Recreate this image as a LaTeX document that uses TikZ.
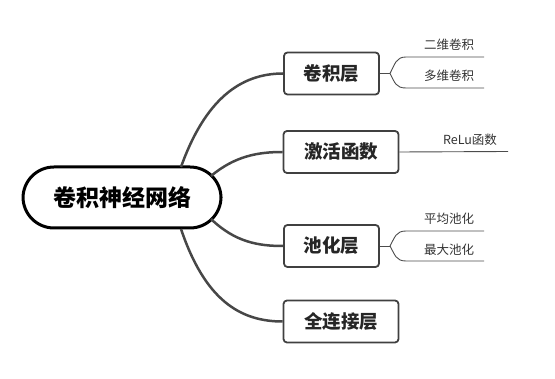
\documentclass[tikz,border=0pt]{standalone}
\usepackage{fontspec}
\setmainfont{Noto Sans CJK SC}
\begin{document}
\begin{tikzpicture}[x=1pt,y=-1pt,
  rootbox/.style={draw=black,line width=3pt,rounded corners=31pt,minimum width=198pt,minimum height=61pt,inner sep=0pt,font=\fontsize{23}{26}\selectfont\bfseries,text=black},
  mainbox/.style={draw=black!75,line width=1.8pt,rounded corners=3.5pt,minimum height=42pt,inner sep=0pt,font=\fontsize{18.5}{21}\selectfont\bfseries,text=black!85},
  branch/.style={draw=black!72,line width=2.5pt},
  subline/.style={draw=black!70,line width=0.9pt},
  sublabel/.style={font=\fontsize{12.5}{14}\selectfont,text=black!80,inner sep=0pt}
]
\useasboundingbox (0,0) rectangle (555,379);
\node[rootbox] (root) at (122,197.5) {卷积神经网络};
\node[mainbox,minimum width=95pt] (b1) at (331.5,73.5) {卷积层};
\node[mainbox,minimum width=115pt] (b2) at (341,152) {激活函数};
\node[mainbox,minimum width=95pt] (b3) at (331.5,246) {池化层};
\node[mainbox,minimum width=115pt] (b4) at (341,321.5) {全连接层};

\coordinate (r1) at (181,167);
\coordinate (r2) at (211,176);
\coordinate (r3) at (211,219);
\coordinate (r4) at (181,229);
\draw[branch] (r1) .. controls (205,100) and (240,73.5) .. (b1.west);
\draw[branch] (r2) .. controls (235,156) and (258,152) .. (b2.west);
\draw[branch] (r3) .. controls (235,242) and (258,246) .. (b3.west);
\draw[branch] (r4) .. controls (205,300) and (240,321.5) .. (b4.west);

% conv sub-branches
\coordinate (j1) at (390,73.5);
\coordinate (e1a) at (484,57);
\coordinate (e1b) at (484,88);
\draw[subline] (b1.east) -- (j1);
\draw[subline] (j1) .. controls (395,64) and (396,57) .. (406,57) -- (e1a);
\draw[subline] (j1) .. controls (395,83) and (396,88) .. (406,88) -- (e1b);
\node[sublabel] (t1) at (449,45) {二维卷积};
\node[sublabel] (t2) at (449,76) {多维卷积};

% relu
\coordinate (e2) at (508,151.5);
\draw[subline] (b2.east) -- (e2);
\node[sublabel] (t3) at (470,140) {ReLu函数};

% pooling sub-branches
\coordinate (j3) at (390,246);
\coordinate (e3a) at (484,231);
\coordinate (e3b) at (484,261);
\draw[subline] (b3.east) -- (j3);
\draw[subline] (j3) .. controls (395,237) and (396,231) .. (406,231) -- (e3a);
\draw[subline] (j3) .. controls (395,255) and (396,261) .. (406,261) -- (e3b);
\node[sublabel] (t4) at (449,219) {平均池化};
\node[sublabel] (t5) at (449,250) {最大池化};
\end{tikzpicture}
\end{document}
